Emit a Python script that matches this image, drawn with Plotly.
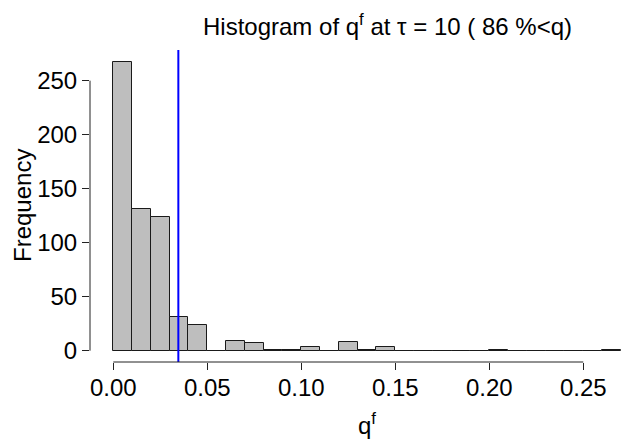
import numpy as np
import plotly.graph_objects as go

# Histogram data (bin edges width 0.01 from 0 to 0.27)
bin_start = 0.0
bin_width = 0.01
counts = [267, 131, 124, 31, 24, 0, 9, 7, 1, 1, 3, 0, 8, 1, 3,
          0, 0, 0, 0, 0, 1, 0, 0, 0, 0, 0, 1]
vline_x = 0.0346
x_ticks = [0.00, 0.05, 0.10, 0.15, 0.20, 0.25]
x_tick_labels = ["0.00", "0.05", "0.10", "0.15", "0.20", "0.25"]
y_ticks = [0, 50, 100, 150, 200, 250]
y_tick_labels = ["0", "50", "100", "150", "200", "250"]

edges = bin_start + bin_width * np.arange(len(counts) + 1)
centers = (edges[:-1] + edges[1:]) / 2

W, H = 622, 441
L, R, T, B = 90, 0, 50, 79
pw, ph = W - L - R, H - T - B


def px_x(p):
    return (p - L) / pw


def px_y(p):
    return (H - B - p) / ph


FONT = "Liberation Sans, Arial, Helvetica, sans-serif"
FS = 24

fig = go.Figure()
fig.add_trace(go.Bar(
    x=centers, y=counts, width=bin_width,
    marker=dict(color="#bebebe", line=dict(color="#1a1a1a", width=1)),
    showlegend=False,
))

fig.add_shape(type="line", xref="x", yref="paper", x0=vline_x, x1=vline_x,
              y0=0, y1=1, line=dict(color="#0000ff", width=2))
# R-style axis lines (from first to last tick)
fig.add_shape(type="line", xref="x", yref="paper", x0=x_ticks[0], x1=x_ticks[-1],
              y0=0, y1=0, line=dict(color="#222", width=1))
fig.add_shape(type="line", xref="paper", yref="y", x0=0, x1=0,
              y0=y_ticks[0], y1=y_ticks[-1], line=dict(color="#222", width=1))

fig.add_annotation(text="Histogram of q<sup>f</sup> at τ = 10 ( 86 %&lt;q)",
                   xref="paper", yref="paper", x=px_x(387), y=px_y(25),
                   showarrow=False, xanchor="center", yanchor="middle",
                   font=dict(size=FS, color="black", family=FONT))
fig.add_annotation(text="q<sup>f</sup>", xref="paper", yref="paper",
                   x=px_x(367), y=px_y(424), showarrow=False,
                   xanchor="center", yanchor="middle",
                   font=dict(size=FS, color="black", family=FONT))
fig.add_annotation(text="Frequency", xref="paper", yref="paper",
                   x=px_x(22), y=0.5, showarrow=False, textangle=-90,
                   xanchor="center", yanchor="middle",
                   font=dict(size=FS, color="black", family=FONT))

fig.update_layout(
    width=W, height=H,
    margin=dict(l=L, r=R, t=T, b=B, pad=0),
    paper_bgcolor="white", plot_bgcolor="white",
    bargap=0,
    font=dict(family=FONT, size=FS, color="black"),
    xaxis=dict(range=[-0.01239, 0.2706],
               tickvals=x_ticks, ticktext=x_tick_labels,
               ticks="outside", ticklen=7, tickcolor="#222", tickwidth=1,
               ticklabelstandoff=-3,
               showline=False, showgrid=False, zeroline=False,
               tickfont=dict(size=FS, color="black")),
    yaxis=dict(range=[-10.46, 278.4],
               tickvals=y_ticks, ticktext=y_tick_labels,
               ticks="outside", ticklen=7, tickcolor="#222", tickwidth=1,
               showline=False, showgrid=False, zeroline=False,
               tickfont=dict(size=FS, color="black")),
)

fig.write_html("out.html")
